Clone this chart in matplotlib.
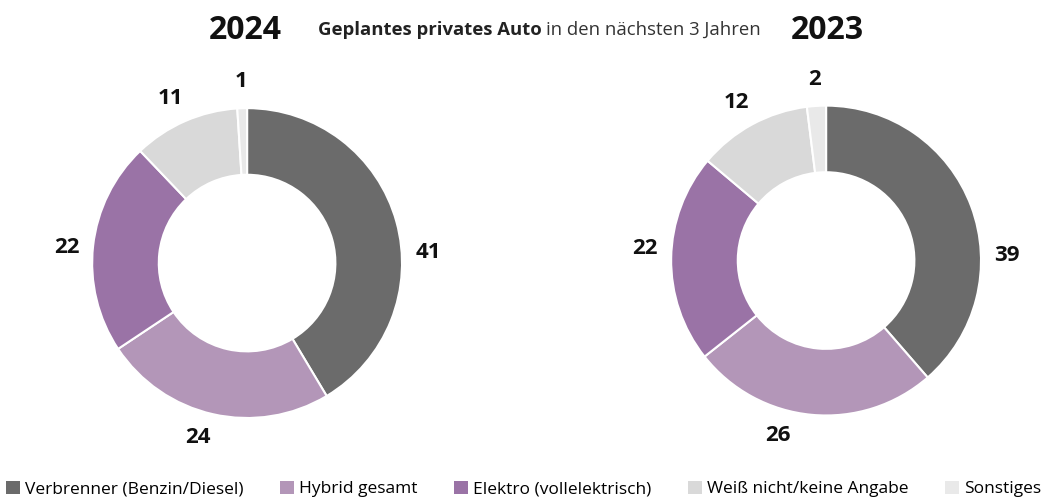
import matplotlib.pyplot as plt
from matplotlib.patches import Patch
import numpy as np

plt.rcParams['font.family'] = ['Open Sans', 'DejaVu Sans']

categories = ['Verbrenner (Benzin/Diesel)', 'Hybrid gesamt', 'Elektro (vollelektrisch)',
              'Weiß nicht/keine Angabe', 'Sonstiges']
values_2024 = [41, 24, 22, 11, 1]
values_2023 = [39, 26, 22, 12, 2]
years = ['2024', '2023']
colors = ['#6b6b6b', '#b396b8', '#9a73a6', '#d9d9d9', '#e9e9e9']

# label angle nudges (degrees) relative to the slice middle, as in the original layout
label_shift_2024 = [-12, -3, 1.5, 1.5, 0]
label_shift_2023 = [-19, -10, -3, 1, 0]

fig = plt.figure(figsize=(10.47, 5.03), dpi=100)
aw, ah = 0.37, 0.77
ax1 = fig.add_axes([0.236 - aw / 2, 0.477 - ah / 2, aw, ah])
ax2 = fig.add_axes([0.789 - aw / 2, 0.482 - ah / 2, aw, ah])


def donut(ax, vals, shifts):
    ax.pie(vals, colors=colors, startangle=90, counterclock=False, radius=1.0,
           wedgeprops=dict(width=0.43, edgecolor='white', linewidth=1.5))
    total = sum(vals)
    start = 90
    for v, s in zip(vals, shifts):
        ang = np.deg2rad(start - v / total * 360 / 2 + s)
        r = 1.17
        ax.text(r * np.cos(ang), r * np.sin(ang), str(v), ha='center', va='center',
                fontsize=16, fontweight='bold', color='#111111')
        start -= v / total * 360
    ax.set_xlim(-1.25, 1.25)
    ax.set_ylim(-1.25, 1.25)
    ax.set_aspect('equal')
    ax.axis('off')


donut(ax1, values_2024, label_shift_2024)
donut(ax2, values_2023, label_shift_2023)

fig.text(0.234, 0.94, years[0], ha='center', va='center', fontsize=23, fontweight='bold', color='#111111')
fig.text(0.79, 0.94, years[1], ha='center', va='center', fontsize=23, fontweight='bold', color='#111111')
t1 = fig.text(0.304, 0.94, 'Geplantes privates Auto', ha='left', va='center', fontsize=13.3,
              fontweight='bold', color='#222222')
fig.canvas.draw()
bb = t1.get_window_extent()
fig.text(bb.x1 / fig.bbox.width + 0.004, 0.94, 'in den nächsten 3 Jahren', ha='left', va='center',
         fontsize=13.3, color='#333333')

handles = [Patch(facecolor=c, edgecolor='none') for c in colors]
fig.legend(handles, categories, loc='lower center', bbox_to_anchor=(0.5, -0.02), ncol=5,
           frameon=False, fontsize=12.5, handlelength=0.8, handleheight=0.8, handletextpad=0.3,
           columnspacing=2.1)

fig.savefig('out.png', dpi=100)
